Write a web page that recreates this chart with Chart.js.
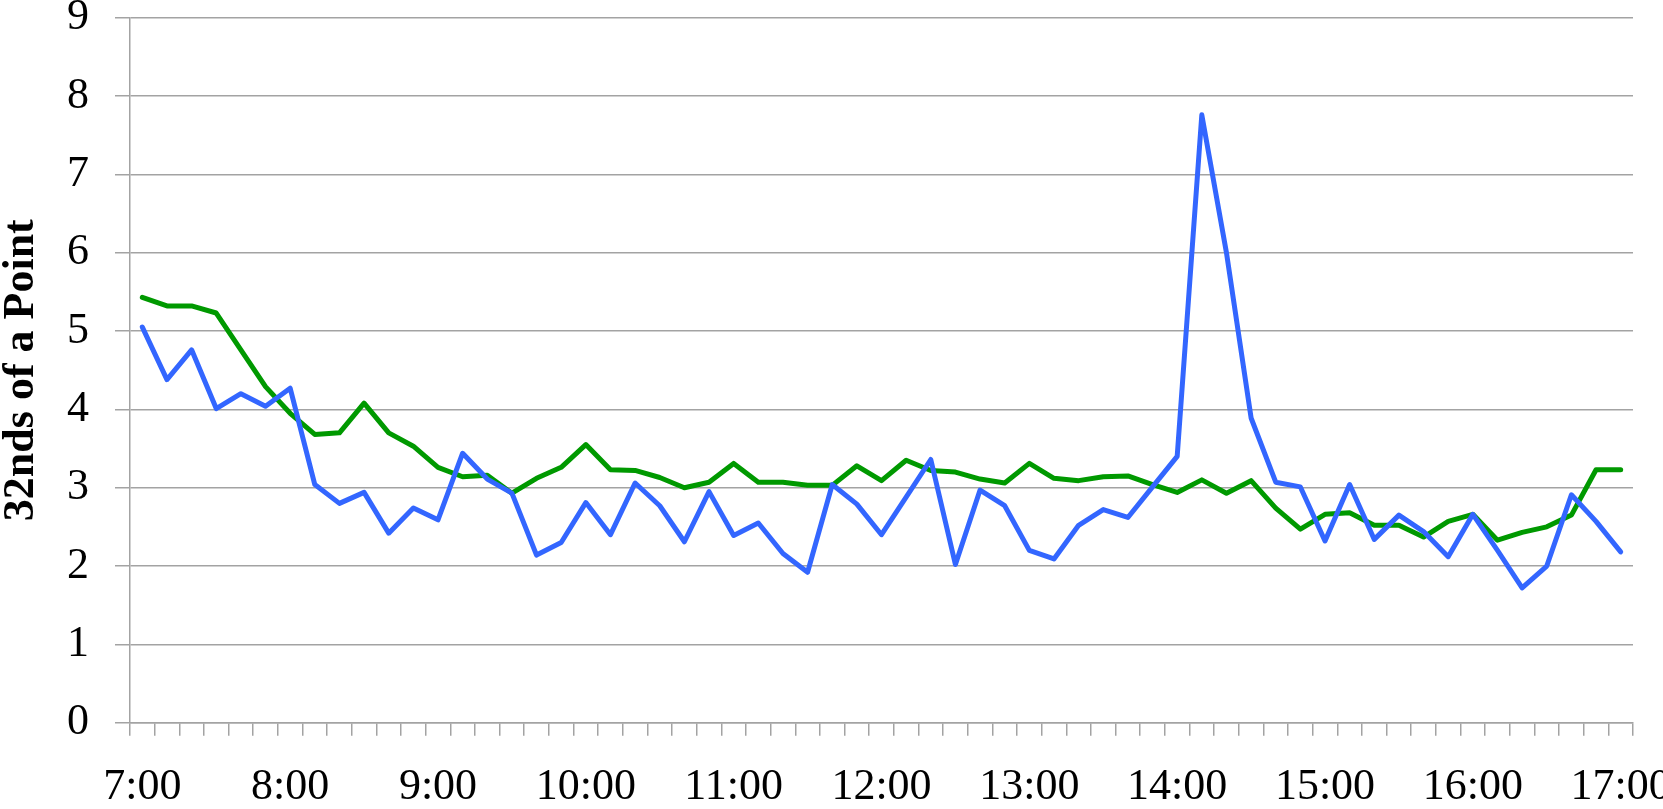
<!DOCTYPE html>
<html>
<head>
<meta charset="utf-8">
<script src="https://cdn.jsdelivr.net/npm/chart.js@4/dist/chart.umd.min.js"></script>
<style>
  html, body { margin: 0; padding: 0; background: #ffffff; }
  #c { display: block; }
</style>
</head>
<body>
<canvas id="c" width="1663" height="809"></canvas>
<script>
// Categories: 10-minute intervals from 7:00 to 17:00
const categories = [
  "7:00","7:10","7:20","7:30","7:40","7:50",
  "8:00","8:10","8:20","8:30","8:40","8:50",
  "9:00","9:10","9:20","9:30","9:40","9:50",
  "10:00","10:10","10:20","10:30","10:40","10:50",
  "11:00","11:10","11:20","11:30","11:40","11:50",
  "12:00","12:10","12:20","12:30","12:40","12:50",
  "13:00","13:10","13:20","13:30","13:40","13:50",
  "14:00","14:10","14:20","14:30","14:40","14:50",
  "15:00","15:10","15:20","15:30","15:40","15:50",
  "16:00","16:10","16:20","16:30","16:40","16:50",
  "17:00"
];

// Tick labels shown on the x axis
const hourLabels = ["7:00","8:00","9:00","10:00","11:00","12:00","13:00","14:00","15:00","16:00","17:00"];

// Blue series
const blueSeries = [
  5.05, 4.38, 4.76, 4.01, 4.20, 4.04,
  4.27, 3.04, 2.80, 2.94, 2.42, 2.74,
  2.59, 3.44, 3.11, 2.93, 2.14, 2.30,
  2.81, 2.40, 3.06, 2.77, 2.31, 2.95,
  2.39, 2.55, 2.16, 1.92, 3.04, 2.79,
  2.40, 2.88, 3.36, 2.02, 2.97, 2.77,
  2.20, 2.09, 2.52, 2.72, 2.62, 3.01,
  3.40, 7.76, 6.00, 3.89, 3.07, 3.01,
  2.32, 3.04, 2.34, 2.65, 2.44, 2.12,
  2.66, 2.20, 1.72, 2.00, 2.91, 2.57,
  2.18
];

// Green series
const greenSeries = [
  5.43, 5.32, 5.32, 5.23, 4.76, 4.29,
  3.95, 3.68, 3.70, 4.08, 3.70, 3.53,
  3.26, 3.14, 3.16, 2.93, 3.12, 3.26,
  3.55, 3.23, 3.22, 3.13, 3.00, 3.07,
  3.31, 3.07, 3.07, 3.03, 3.03, 3.28,
  3.09, 3.35, 3.22, 3.20, 3.11, 3.06,
  3.31, 3.12, 3.09, 3.14, 3.15, 3.04,
  2.94, 3.10, 2.93, 3.09, 2.74, 2.47,
  2.66, 2.68, 2.52, 2.52, 2.37, 2.57,
  2.66, 2.33, 2.43, 2.50, 2.65, 3.23,
  3.23
];

// Y axis ticks
const yMin = 0, yMax = 9, yStep = 1;
const yTitle = "32nds of a Point";

const gridColor = '#a3a3a3';
const fontFamily = "'Liberation Serif', 'Times New Roman', serif";

new Chart(document.getElementById('c'), {
  type: 'line',
  data: {
    labels: categories,
    datasets: [
      {
        label: 'Blue',
        data: blueSeries,
        borderColor: '#3366ff',
        backgroundColor: '#3366ff',
        borderWidth: 5,
        pointRadius: 0,
        tension: 0,
        borderJoinStyle: 'round',
        borderCapStyle: 'round',
        fill: false
      },
      {
        label: 'Green',
        data: greenSeries,
        borderColor: '#009900',
        backgroundColor: '#009900',
        borderWidth: 5,
        pointRadius: 0,
        tension: 0,
        borderJoinStyle: 'round',
        borderCapStyle: 'round',
        fill: false
      }
    ]
  },
  options: {
    responsive: false,
    animation: false,
    events: [],
    layout: { padding: { top: 17.7, right: 30, left: 0, bottom: 0 } },
    plugins: {
      legend: { display: false },
      tooltip: { enabled: false },
      title: { display: false }
    },
    scales: {
      x: {
        type: 'category',
        offset: true,
        grid: {
          display: true,
          drawOnChartArea: false,
          drawTicks: true,
          tickLength: 13,
          offset: true,
          color: gridColor,
          lineWidth: 1.5
        },
        border: { display: true, color: gridColor, width: 1.5 },
        ticks: {
          autoSkip: false,
          maxRotation: 0,
          minRotation: 0,
          padding: 25,
          color: '#000000',
          font: { family: fontFamily, size: 44 },
          callback: function (val) {
            const l = this.getLabelForValue(val);
            return hourLabels.includes(l) ? l : '';
          }
        },
        afterFit: function (scale) {
          scale.height = 809 - 722.7;
          scale.paddingLeft = 0;
          scale.paddingRight = 0;
        }
      },
      y: {
        min: yMin,
        max: yMax,
        grid: {
          color: gridColor,
          lineWidth: 1.5,
          drawTicks: true,
          tickLength: 15
        },
        border: { display: true, color: gridColor, width: 1.5 },
        ticks: {
          stepSize: yStep,
          padding: 26,
          color: '#000000',
          font: { family: fontFamily, size: 44 }
        },
        title: {
          display: true,
          text: yTitle,
          color: '#000000',
          padding: 0,
          font: { family: fontFamily, size: 44, weight: 'bold', lineHeight: 1 }
        },
        afterFit: function (scale) {
          scale.width = 130;
          scale.paddingTop = 0;
          scale.paddingBottom = 0;
        }
      }
    }
  }
});
</script>
</body>
</html>
